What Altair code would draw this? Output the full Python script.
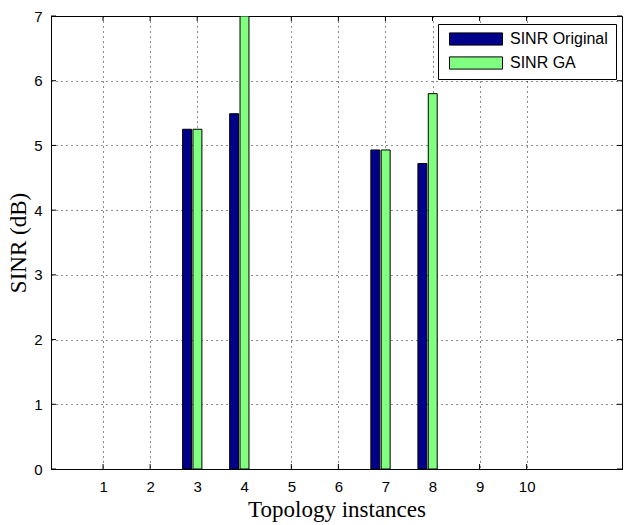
import altair as alt
import pandas as pd

# ---- data ----
instances = [1, 2, 3, 4, 5, 6, 7, 8, 9, 10]
sinr_original = [0, 0, 5.25, 5.49, 0, 0, 4.93, 4.72, 0, 0]
sinr_ga = [0, 0, 5.25, 7.0, 0, 0, 4.93, 5.80, 0, 0]
series_names = ["SINR Original", "SINR GA"]
x_ticks = [1, 2, 3, 4, 5, 6, 7, 8, 9, 10]
y_ticks = [0, 1, 2, 3, 4, 5, 6, 7]
x_domain = [0, 11.92]
y_domain = [0, 7]

# ---- style ----
colors = ["#00008B", "#80FF80"]
bar_lo = {"SINR Original": -0.31, "SINR GA": -0.09}
bar_hi = {"SINR Original": -0.12, "SINR GA": 0.10}
W, H = 571, 453

rows = []
for s, vals in zip(series_names, [sinr_original, sinr_ga]):
    for i, v in zip(instances, vals):
        if v > 0:
            rows.append({"instance": i, "series": s, "value": v, "base": 0,
                         "x0": i + bar_lo[s], "x1": i + bar_hi[s]})
df = pd.DataFrame(rows)

xscale = alt.Scale(domain=x_domain, nice=False, zero=False)
yscale = alt.Scale(domain=y_domain, nice=False)

x_axis = alt.Axis(values=x_ticks, format="d", grid=True, gridDash=[1, 4],
                  gridColor="black", gridOpacity=0.9, tickSize=0, labelPadding=10,
                  labelFont="Liberation Sans", labelFontSize=15, labelColor="black",
                  domainColor="black", title="Topology instances",
                  titleFont="Liberation Serif", titleFontSize=23,
                  titleFontWeight="normal", titleColor="black",
                  titleY=40, titleBaseline="middle")
y_axis = alt.Axis(values=y_ticks, format="d", grid=True, gridDash=[1, 4],
                  gridColor="black", gridOpacity=0.9, tickSize=0, labelPadding=9,
                  labelFont="Liberation Sans", labelFontSize=15, labelColor="black",
                  domainColor="black", title="SINR (dB)",
                  titleFont="Liberation Serif", titleFontSize=23,
                  titleFontWeight="normal", titleColor="black",
                  titleX=-33, titleY=H / 2, titleAngle=270,
                  titleBaseline="middle", titleAlign="center")

legend = alt.Legend(title=None, orient="none", legendX=387, legendY=8,
                    direction="vertical", fillColor="white", strokeColor="black",
                    padding=8, rowPadding=8,
                    symbolType="M-1,-0.23H1V0.23H-1Z", symbolSize=2809,
                    symbolStrokeColor="black", symbolStrokeWidth=1,
                    symbolOpacity=1, symbolOffset=3, labelOffset=7,
                    labelFont="Liberation Sans", labelFontSize=16,
                    labelColor="black", clipHeight=14)

bars = alt.Chart(df).mark_bar(stroke="black", strokeWidth=1, clip=True,
                              orient="vertical").encode(
    x=alt.X("x0:Q", scale=xscale, axis=x_axis),
    x2="x1:Q",
    y=alt.Y("value:Q", scale=yscale, axis=y_axis, stack=None),
    y2="base:Q",
    color=alt.Color("series:N", sort=series_names,
                    scale=alt.Scale(domain=series_names, range=colors),
                    legend=legend),
)

xt = pd.DataFrame({"t": x_ticks})
yt = pd.DataFrame({"t": y_ticks})

tb = alt.Chart(xt).mark_rule(color="black").encode(
    x=alt.X("t:Q", scale=xscale, axis=x_axis), y=alt.value(H), y2=alt.value(H - 5))
tt = alt.Chart(xt).mark_rule(color="black").encode(
    x=alt.X("t:Q", scale=xscale, axis=x_axis), y=alt.value(0), y2=alt.value(5))
tl = alt.Chart(yt).mark_rule(color="black").encode(
    y=alt.Y("t:Q", scale=yscale, axis=y_axis), x=alt.value(0), x2=alt.value(5))
tr = alt.Chart(yt).mark_rule(color="black").encode(
    y=alt.Y("t:Q", scale=yscale, axis=y_axis), x=alt.value(W - 5), x2=alt.value(W))

chart = alt.layer(tb, tt, tl, tr, bars).properties(
    width=W, height=H,
    autosize=alt.AutoSizeParams(type="none"),
    padding={"left": 51, "top": 16, "right": 3, "bottom": 56},
    background="white",
).configure_view(stroke="black", strokeWidth=1)

chart.save("out.html", embed_options={"renderer": "svg", "actions": False})
